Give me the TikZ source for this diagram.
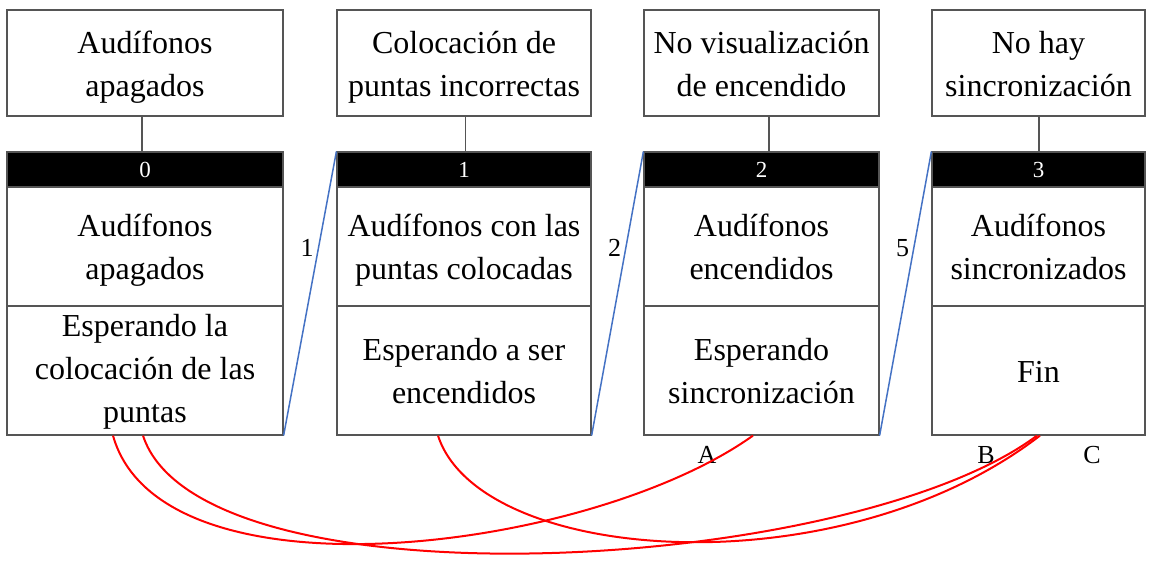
\documentclass[tikz,border=0pt]{standalone}
\usepackage{fontspec}
\setmainfont{Liberation Serif}
\usetikzlibrary{calc}
\definecolor{bordergray}{HTML}{555555}
\definecolor{linkblue}{HTML}{4472C4}
\newcommand{\topstr}{\rule{0pt}{36pt}}
\newcommand{\tritop}{\rule{0pt}{29.5pt}}
\newcommand{\tribot}{\rule[-12.5pt]{0pt}{12.5pt}}
\tikzset{
  x=1pt, y=-1pt,
  boxbase/.style={draw=bordergray, line width=1.2pt, rectangle, inner sep=0pt, align=center,
    font=\fontsize{32}{43}\selectfont, text=black},
  topbox/.style={boxbase, minimum height=106pt},
  barbox/.style={draw=bordergray, line width=1.2pt, fill=black, rectangle, inner sep=0pt,
    minimum height=35pt, text=white, font=\fontsize{23}{26}\selectfont},
  upbox/.style={boxbase, minimum height=119pt},
  lowbox/.style={boxbase, minimum height=129pt},
  lbl/.style={font=\fontsize{26}{28}\selectfont, inner sep=0pt},
  stem/.style={draw=bordergray, line width=1.2pt},
  bluelink/.style={draw=linkblue, line width=1.5pt},
  redlink/.style={draw=red, line width=2pt},
}
\begin{document}
\begin{tikzpicture}
\useasboundingbox (0,0) rectangle (1151,567);
% column 0
\node[topbox, minimum width=276pt] (t0) at (145,63) {\topstr Audífonos\\apagados\strut};
\node[barbox, minimum width=276pt] (b0) at (145,169.5) {0};
\node[upbox, minimum width=276pt] (u0) at (145,246.5) {\topstr Audífonos\\apagados\strut};
\node[lowbox, minimum width=276pt] (l0) at (145,370.5) {\tritop Esperando la\\colocación de las\\puntas\tribot};
% column 1
\node[topbox, minimum width=254pt] (t1) at (464,63) {\topstr Colocación de\\puntas incorrectas\strut};
\node[barbox, minimum width=254pt] (b1) at (464,169.5) {1};
\node[upbox, minimum width=254pt] (u1) at (464,246.5) {\topstr Audífonos con las\\puntas colocadas\strut};
\node[lowbox, minimum width=254pt] (l1) at (464,370.5) {\topstr Esperando a ser\\encendidos\strut};
% column 2
\node[topbox, minimum width=235pt] (t2) at (761.5,63) {\topstr No visualización\\de encendido\strut};
\node[barbox, minimum width=235pt] (b2) at (761.5,169.5) {2};
\node[upbox, minimum width=235pt] (u2) at (761.5,246.5) {\topstr Audífonos\\encendidos\strut};
\node[lowbox, minimum width=235pt] (l2) at (761.5,370.5) {\topstr Esperando\\sincronización\strut};
% column 3
\node[topbox, minimum width=213pt] (t3) at (1038.5,63) {\topstr No hay\\sincronización\strut};
\node[barbox, minimum width=213pt] (b3) at (1038.5,169.5) {3};
\node[upbox, minimum width=213pt] (u3) at (1038.5,246.5) {\topstr Audífonos\\sincronizados\strut};
\node[lowbox, minimum width=213pt] (l3) at (1038.5,370.5) {\topstr Fin\strut};
% stems
\draw[stem] ([xshift=-3pt]t0.south) -- ([xshift=-3pt]b0.north);
\draw[stem] ([xshift=1.5pt]t1.south) -- ([xshift=1.5pt]b1.north);
\draw[stem] ([xshift=7.5pt]t2.south) -- ([xshift=7.5pt]b2.north);
\draw[stem] ([xshift=0.5pt]t3.south) -- ([xshift=0.5pt]b3.north);
% blue links
\draw[bluelink] (l0.south east) -- node[pos=0.66, left=4pt, lbl] (n1) {1} (b1.north west);
\draw[bluelink] (l1.south east) -- node[pos=0.66, left=4pt, lbl] (n2) {2} (b2.north west);
\draw[bluelink] (l2.south east) -- node[pos=0.66, left=4pt, lbl] (n5) {5} (b3.north west);
% labels
\node[lbl] (la) at (707,455) {A};
\node[lbl] (lb) at (986,455) {B};
\node[lbl] (lc) at (1092,455) {C};
% red curves
\coordinate (r0a) at ([xshift=-32pt]l0.south);
\coordinate (r0b) at ([xshift=-2pt]l0.south);
\coordinate (r1) at ([xshift=-26pt]l1.south);
\coordinate (r2) at ([xshift=-8.5pt]l2.south);
\coordinate (r3a) at ([xshift=-1.5pt]l3.south);
\coordinate (r3b) at ([xshift=1.5pt]l3.south);
\draw[redlink] (r0a) .. controls (161,606) and (590,552) .. (r2);
\draw[redlink] (r0b) .. controls (200,610) and (850,575) .. (r3a);
\draw[redlink] (r1) .. controls (480,565) and (840,590) .. (r3b);
\end{tikzpicture}
\end{document}
